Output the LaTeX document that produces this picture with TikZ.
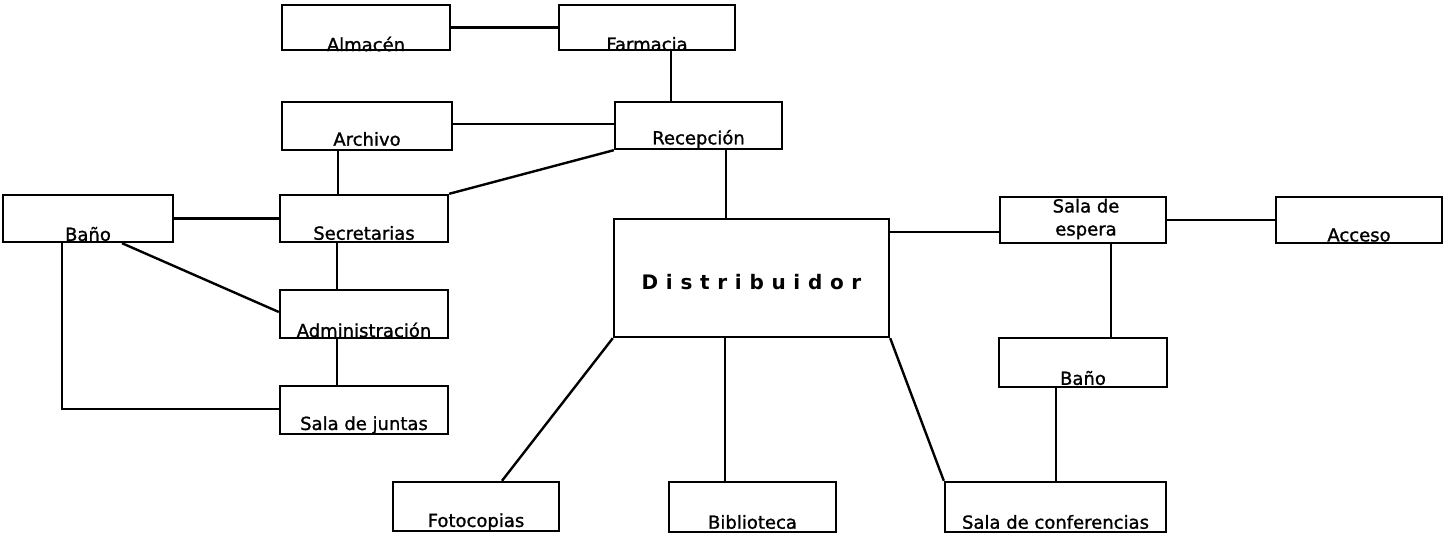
\documentclass[tikz,border=0pt]{standalone}
\usepackage{fontspec}
\setmainfont{DejaVu Sans}
\newfontfamily\lblfont[FakeBold=1.2]{DejaVu Sans}
\newcommand\DistSp{\hspace{7.7pt}}
\begin{document}
\begin{tikzpicture}[x=1pt,y=-1pt,
  box/.style={draw, line width=2.4pt, rectangle, inner sep=0pt},
  lbl/.style={font=\lblfont\fontsize{18}{23}\selectfont, inner sep=0pt, anchor=base},
  conn/.style={line width=2.4pt}]
\useasboundingbox[fill=white] (0,0) rectangle (1444,534);
% boxes
\node[box, minimum width=168, minimum height=45, label={[lbl, yshift=-16.5pt]center:Almacén}] (alm) at (366,27.5) {};
\node[box, minimum width=176, minimum height=45, label={[lbl, yshift=-16.5pt]center:Farmacia}] (farm) at (647,27.5) {};
\node[box, minimum width=170, minimum height=48, label={[lbl, yshift=-13pt]center:Archivo}] (arch) at (367,126) {};
\node[box, minimum width=167, minimum height=47, label={[lbl, yshift=-13.5pt]center:Recepción}] (rec) at (698.5,125.5) {};
\node[box, minimum width=170, minimum height=47, label={[lbl, yshift=-15.5pt]center:Baño}] (banoL) at (88,218.5) {};
\node[box, minimum width=168, minimum height=47, label={[lbl, yshift=-14.5pt]center:Secretarias}] (sec) at (364,218.5) {};
\node[box, minimum width=168, minimum height=48, label={[lbl, yshift=-16pt]center:Administración}] (adm) at (364,314) {};
\node[box, minimum width=168, minimum height=48, label={[lbl, yshift=-15pt]center:Sala de juntas}] (jun) at (364,410) {};
\node[box, minimum width=275, minimum height=118,
  label={[lbl, yshift=-4pt, font=\fontsize{20}{24}\selectfont\bfseries]center:D\DistSp i\DistSp s\DistSp t\DistSp r\DistSp i\DistSp b\DistSp u\DistSp i\DistSp d\DistSp o\DistSp r}] (dist) at (751.5,278) {};
\node[box, minimum width=166, minimum height=46,
  label={[lbl, anchor=center, align=center, yshift=1pt, xshift=3pt]center:Sala de\\espera}] (esp) at (1083,220) {};
\node[box, minimum width=166, minimum height=46, label={[lbl, yshift=-15pt]center:Acceso}] (acc) at (1359,220) {};
\node[box, minimum width=168, minimum height=49, label={[lbl, yshift=-15.5pt]center:Baño}] (banoR) at (1083,362.5) {};
\node[box, minimum width=166, minimum height=49, label={[lbl, yshift=-15.5pt]center:Fotocopias}] (foto) at (476,506.5) {};
\node[box, minimum width=167, minimum height=50, label={[lbl, yshift=-15pt]center:Biblioteca}] (bib) at (752.5,507) {};
\node[box, minimum width=221, minimum height=50, label={[lbl, yshift=-15pt]center:Sala de conferencias}] (conf) at (1055.5,507) {};
% connectors
\draw[conn] (alm.east) -- (farm.west);
\draw[conn] ([xshift=24pt]farm.south) -- ([xshift=24pt]farm.south |- rec.north);
\draw[conn] ([yshift=2pt]arch.east) -- ([yshift=2pt]arch.east -| rec.west);
\draw[conn] ([xshift=-29pt]arch.south) -- ([xshift=-29pt]arch.south |- sec.north);
\draw[conn] (rec.south west) -- (sec.north east);
\draw[conn] ([xshift=27.5pt]rec.south) -- ([xshift=27.5pt]rec.south |- dist.north);
\draw[conn] (banoL.east) -- (sec.west);
\draw[conn] ([xshift=34pt]banoL.south) -- ([yshift=2pt]adm.west);
\draw[conn] ([xshift=-26pt]banoL.south) |- ([yshift=1pt]jun.west);
\draw[conn] ([xshift=-27pt]sec.south) -- ([xshift=-27pt]sec.south |- adm.north);
\draw[conn] ([xshift=-27pt]adm.south) -- ([xshift=-27pt]adm.south |- jun.north);
\draw[conn] ([yshift=-12pt]esp.west) -- ([yshift=-12pt]esp.west -| dist.east);
\draw[conn] (esp.east) -- (acc.west);
\draw[conn] ([xshift=28pt]esp.south) -- ([xshift=28pt]esp.south |- banoR.north);
\draw[conn] ([xshift=-27pt]banoR.south) -- ([xshift=-27pt]banoR.south |- conf.north);
\draw[conn] (dist.south west) -- ([xshift=26pt]foto.north);
\draw[conn] ([xshift=-26.5pt]dist.south) -- ([xshift=-26.5pt]dist.south |- bib.north);
\draw[conn] (dist.south east) -- (conf.north west);
\end{tikzpicture}
\end{document}
